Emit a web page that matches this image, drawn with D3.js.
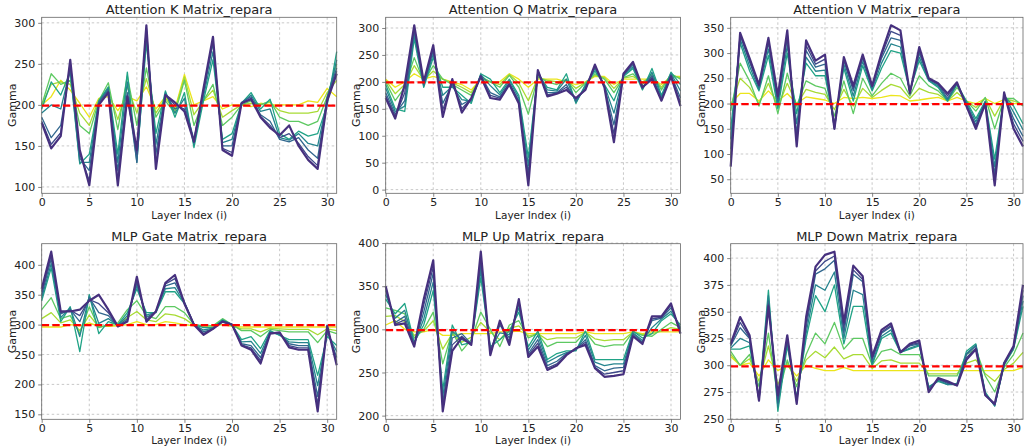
<!DOCTYPE html>
<meta charset="utf-8">
<style>
  body { margin: 0; background: #fff; }
  text { font-family: "DejaVu Sans", sans-serif; fill: #222; }
</style>
<svg width="1024" height="446"></svg>
<script src="https://d3js.org/d3.v7.min.js"></script>
<script>

var layers = d3.range(32);

var titles = ["Attention K Matrix_repara", "Attention Q Matrix_repara", "Attention V Matrix_repara",
              "MLP Gate Matrix_repara", "MLP Up Matrix_repara", "MLP Down Matrix_repara"];

// red reference line per panel
var baselines = [199, 199, 199, 299, 299, 299];

var kTicks = [100, 150, 200, 250, 300];
var qTicks = [0, 50, 100, 150, 200, 250, 300];
var vTicks = [50, 100, 150, 200, 250, 300, 350];
var gateTicks = [150, 200, 250, 300, 350, 400];
var upTicks = [200, 250, 300, 350, 400];
var downTicks = [250, 275, 300, 325, 350, 375, 400];
var xTicks = [0, 5, 10, 15, 20, 25, 30];

// Attention K
var kDark   = [178,147,162,255,145,102,200,215,102,210,145,297,122,212,203,192,155,220,283,145,138,202,207,185,172,163,175,150,133,122,205,238];
var kIndigo = [180,152,166,252,140,108,201,216,108,212,140,294,128,212,200,195,156,218,280,147,142,202,208,186,175,160,165,153,137,126,207,241];
var kBlue   = [185,160,175,245,135,120,203,218,120,215,130,290,140,213,195,200,158,215,275,150,150,203,210,188,180,158,155,160,145,135,210,245];
var kCyan   = [190,200,195,243,130,130,204,220,130,228,130,283,152,215,190,208,152,210,265,154,158,202,212,192,195,160,157,165,153,150,205,255];
var kTeal   = [195,228,212,240,128,140,205,222,140,240,135,275,165,217,185,215,148,205,255,158,165,202,215,195,207,165,158,168,162,165,200,265];
var kGreen  = [200,238,225,230,175,165,205,227,170,235,175,245,185,205,190,230,175,205,225,175,185,200,205,200,205,185,180,180,175,180,210,250];
var kLime   = [200,225,228,225,190,175,207,218,182,222,190,232,190,208,193,234,188,205,218,185,193,200,202,201,203,193,190,190,190,192,215,230];
var kYellow = [200,210,230,218,202,185,208,210,193,210,205,222,195,210,195,237,200,205,210,195,200,200,198,202,200,200,200,200,205,203,220,210];

// Attention Q
var qDark   = [170,132,195,305,200,268,135,205,143,170,210,170,167,195,160,8,222,173,178,185,170,185,232,190,88,215,237,190,205,165,210,155];
var qIndigo = [174,135,180,300,198,263,148,200,150,169,211,175,170,196,162,18,221,176,179,190,168,186,230,191,104,214,235,189,208,166,211,162];
var qBlue   = [180,140,165,295,195,258,160,195,158,168,212,180,172,198,165,30,220,180,180,195,165,188,228,192,120,213,232,188,212,168,213,170];
var qCyan   = [188,145,155,288,192,252,175,192,167,164,214,193,176,202,170,45,218,185,183,205,162,192,224,194,142,212,228,187,218,172,216,183];
var qTeal   = [195,150,145,280,190,245,190,190,175,160,215,205,180,205,175,60,215,190,185,215,160,195,220,195,165,210,225,185,225,175,218,195];
var qGreen  = [200,165,190,245,200,230,205,195,185,175,210,200,190,212,190,140,210,200,195,205,180,198,215,205,180,208,215,195,215,185,215,205];
var qLime   = [203,178,195,230,203,220,205,198,190,180,208,200,195,214,198,165,208,203,200,203,188,199,212,208,188,207,210,200,210,190,212,208];
var qYellow = [205,190,200,215,205,210,205,200,195,185,205,200,200,215,205,190,205,205,205,200,195,200,210,210,195,205,205,205,205,195,210,210];

// Attention V
var vDark   = [75,340,290,237,330,215,345,115,325,285,297,150,292,235,297,235,300,355,345,220,312,250,240,220,242,195,150,200,38,222,150,115];
var vIndigo = [92,338,286,235,325,210,338,128,315,278,288,150,289,230,294,234,295,343,335,221,306,249,239,215,241,196,154,201,49,220,160,125];
var vBlue   = [110,335,282,232,320,205,330,140,305,272,278,150,285,225,290,232,290,330,325,222,300,248,238,210,240,198,158,202,60,218,170,135];
var vCyan   = [130,328,274,228,308,198,315,160,292,264,266,155,278,215,283,228,280,318,312,224,292,246,235,207,239,202,164,204,75,216,183,148];
var vTeal   = [150,320,265,225,295,190,300,180,280,255,255,160,270,205,275,225,270,305,300,225,285,245,232,205,238,205,170,205,90,215,195,160];
var vGreen  = [185,280,245,195,255,180,260,195,245,235,230,175,245,180,250,215,240,260,250,215,255,235,225,205,232,205,185,212,150,210,210,195];
var vLime   = [195,250,232,200,240,192,240,198,228,222,218,188,228,195,230,212,226,238,232,210,230,222,218,205,222,205,192,211,175,209,205,198];
var vYellow = [200,220,220,205,225,205,220,200,213,210,207,200,212,210,212,210,212,216,215,205,207,210,212,205,212,205,200,210,200,208,200,200];

// MLP Gate
var gDark   = [360,422,322,322,325,340,350,325,297,305,380,305,322,370,383,335,300,283,293,305,300,265,258,235,285,287,262,258,258,155,298,232];
var gIndigo = [355,416,320,324,315,342,335,320,297,307,375,308,322,368,377,336,300,285,293,305,300,266,261,240,286,286,265,261,261,167,295,238];
var gBlue   = [350,410,318,325,305,345,320,315,298,310,370,312,322,365,370,338,300,288,293,306,300,268,265,245,287,285,268,265,265,180,292,245];
var gCyan   = [345,402,312,328,280,348,302,310,299,315,365,316,321,360,362,336,300,291,294,307,300,271,272,252,288,283,271,270,270,198,286,255];
var gTeal   = [340,395,305,330,255,350,285,305,300,320,360,320,320,355,355,335,300,295,295,308,300,275,280,260,290,282,275,275,275,215,280,265];
var gGreen  = [325,345,310,315,285,330,295,300,303,325,340,315,310,330,330,320,300,298,298,310,300,290,290,280,292,290,288,288,288,270,290,285];
var gLime   = [310,320,303,308,290,316,296,298,300,312,322,308,305,318,316,310,299,298,298,305,298,293,293,288,294,293,292,292,292,283,293,290];
var gYellow = [296,296,296,300,298,303,297,297,298,300,305,300,300,305,303,300,298,298,298,300,297,296,296,296,296,296,296,296,296,296,296,296];

// MLP Up
var uDark   = [350,305,307,280,335,380,205,275,290,282,390,270,310,282,335,268,280,253,258,270,278,282,255,245,246,248,292,283,315,315,330,295];
var uIndigo = [348,306,311,281,328,372,210,282,292,282,383,272,308,286,333,270,284,255,260,271,277,285,256,248,250,252,293,284,312,314,328,297];
var uBlue   = [345,308,315,282,320,365,215,290,295,283,375,275,305,290,330,272,288,258,263,272,277,288,258,252,255,256,295,285,310,313,325,300];
var uCyan   = [340,313,322,283,312,355,222,298,288,284,368,277,296,294,325,276,293,262,268,273,276,293,262,258,260,260,296,287,302,312,321,302];
var uTeal   = [335,318,330,285,305,345,230,305,282,285,360,280,288,298,320,280,298,265,272,275,275,298,265,265,265,265,298,290,295,310,318,305];
var uGreen  = [325,322,318,290,300,320,260,298,275,288,320,300,280,305,310,290,295,280,285,285,285,297,283,280,282,282,297,293,292,300,308,302];
var uLime   = [315,316,309,293,298,310,277,295,285,291,308,297,288,301,304,292,295,288,290,290,290,297,289,287,288,288,297,294,295,298,302,300];
var uYellow = [305,310,300,297,297,300,293,293,295,295,295,295,297,297,298,295,295,295,295,295,295,297,295,295,295,295,297,295,297,297,297,297];

// MLP Down
var dDark   = [320,345,328,267,355,272,328,264,345,392,403,406,340,393,383,308,333,339,312,320,323,275,288,285,281,305,315,272,264,302,318,375];
var dIndigo = [319,340,326,267,357,268,326,265,340,388,397,402,335,389,380,306,331,337,312,319,321,276,287,284,281,307,316,272,263,302,317,370];
var dBlue   = [318,335,325,268,360,265,325,267,335,385,390,398,330,385,378,305,330,336,313,318,320,278,287,283,282,310,318,273,263,302,317,365];
var dCyan   = [316,325,321,269,365,261,321,268,330,375,370,387,325,370,366,302,327,333,312,316,319,279,286,282,282,311,319,274,262,301,316,360];
var dTeal   = [315,315,318,270,370,257,318,270,325,365,350,375,320,355,355,300,325,330,312,315,318,280,285,282,283,313,320,275,262,300,315,355];
var dGreen  = [313,300,310,280,330,270,305,280,310,330,320,340,315,325,325,300,313,315,310,310,310,290,290,290,290,310,315,290,275,298,310,330];
var dLime   = [310,300,306,285,318,282,302,285,305,313,307,317,306,310,310,297,304,305,302,302,302,292,292,292,292,302,305,292,285,296,302,312];
var dYellow = [308,300,302,290,305,295,300,290,300,297,295,295,298,295,295,295,295,295,295,295,295,295,295,295,295,295,295,295,295,295,295,298];

var panels = [
  {title: titles[0], ticks: kTicks, series: [kYellow, kLime, kGreen, kTeal, kCyan, kBlue, kIndigo, kDark]},
  {title: titles[1], ticks: qTicks, series: [qYellow, qLime, qGreen, qTeal, qCyan, qBlue, qIndigo, qDark]},
  {title: titles[2], ticks: vTicks, series: [vYellow, vLime, vGreen, vTeal, vCyan, vBlue, vIndigo, vDark]},
  {title: titles[3], ticks: gateTicks, series: [gYellow, gLime, gGreen, gTeal, gCyan, gBlue, gIndigo, gDark]},
  {title: titles[4], ticks: upTicks, series: [uYellow, uLime, uGreen, uTeal, uCyan, uBlue, uIndigo, uDark]},
  {title: titles[5], ticks: downTicks, series: [dYellow, dLime, dGreen, dTeal, dCyan, dBlue, dIndigo, dDark]}
];

// viridis positions, yellow first so the dark lines end on top
var shades = [0.97, 0.87, 0.75, 0.58, 0.45, 0.33, 0.22, 0.14];

var cols = [[41.7, 336.7], [385.7, 680.5], [730.7, 1023]];
var rows = [[17.3, 193.3], [243.7, 419.3]];

var svg = d3.select("svg");

panels.forEach(function(p, k) {
  var c = cols[k % 3], r = rows[Math.floor(k / 3)];

  var all = d3.merge(p.series);
  var lo = d3.min(all), hi = d3.max(all), pad = (hi - lo) * 0.05;

  var x = d3.scaleLinear().domain([0, 31]).range(c);
  var y = d3.scaleLinear().domain([lo - pad, hi + pad]).range([r[1], r[0]]);

  var g = svg.append("g");

  // grid
  g.selectAll(".gx").data(xTicks).enter().append("line")
      .attr("x1", function(d) { return x(d); }).attr("x2", function(d) { return x(d); })
      .attr("y1", r[0]).attr("y2", r[1])
      .attr("stroke", "#bbb").attr("stroke-width", 0.8).attr("stroke-dasharray", "2.5,2.5");
  g.selectAll(".gy").data(p.ticks).enter().append("line")
      .attr("y1", function(d) { return y(d); }).attr("y2", function(d) { return y(d); })
      .attr("x1", c[0]).attr("x2", c[1])
      .attr("stroke", "#bbb").attr("stroke-width", 0.8).attr("stroke-dasharray", "2.5,2.5");

  var line = d3.line()
      .x(function(d, i) { return x(layers[i]); })
      .y(function(d) { return y(d); });

  g.selectAll(".series").data(p.series).enter().append("path")
      .attr("d", line)
      .attr("fill", "none")
      .attr("stroke", function(d, i) { return d3.interpolateViridis(shades[i]); })
      .attr("stroke-width", function(d, i) { return i == 7 ? 2.2 : 1.3; })
      .attr("stroke-linejoin", "round");

  g.append("line")
      .attr("x1", c[0]).attr("x2", c[1])
      .attr("y1", y(baselines[k])).attr("y2", y(baselines[k]))
      .attr("stroke", "#ff0000").attr("stroke-width", 2.2)
      .attr("stroke-dasharray", "7.4,3.2");

  g.append("rect")
      .attr("x", c[0]).attr("y", r[0])
      .attr("width", c[1] - c[0]).attr("height", r[1] - r[0])
      .attr("fill", "none").attr("stroke", "#666").attr("stroke-width", 0.8);

  var ax = g.append("g")
      .attr("transform", "translate(0," + r[1] + ")")
      .call(d3.axisBottom(x).tickValues(xTicks).tickSize(3.5).tickPadding(1.5));
  var ay = g.append("g")
      .attr("transform", "translate(" + c[0] + ",0)")
      .call(d3.axisLeft(y).tickValues(p.ticks).tickSize(3.5).tickPadding(3));
  [ax, ay].forEach(function(a) {
    a.select(".domain").remove();
    a.selectAll("line").attr("stroke", "#666").attr("stroke-width", 0.8);
    a.selectAll("text").attr("font-size", 11).attr("font-family", "DejaVu Sans").attr("fill", "#222");
  });

  g.append("text")
      .attr("x", (c[0] + c[1]) / 2).attr("y", r[0] - 3)
      .attr("text-anchor", "middle")
      .attr("font-size", 13)
      .text(p.title);

  g.append("text")
      .attr("x", (c[0] + c[1]) / 2).attr("y", Math.min(r[1] + 25.5, 443.6))
      .attr("text-anchor", "middle")
      .attr("font-size", 10.5)
      .text("Layer Index (i)");

  g.append("text")
      .attr("transform", "translate(" + (c[0] - 26) + "," + ((r[0] + r[1]) / 2) + ") rotate(-90)")
      .attr("text-anchor", "middle")
      .attr("font-size", 11)
      .text("Gamma");
});

</script>
